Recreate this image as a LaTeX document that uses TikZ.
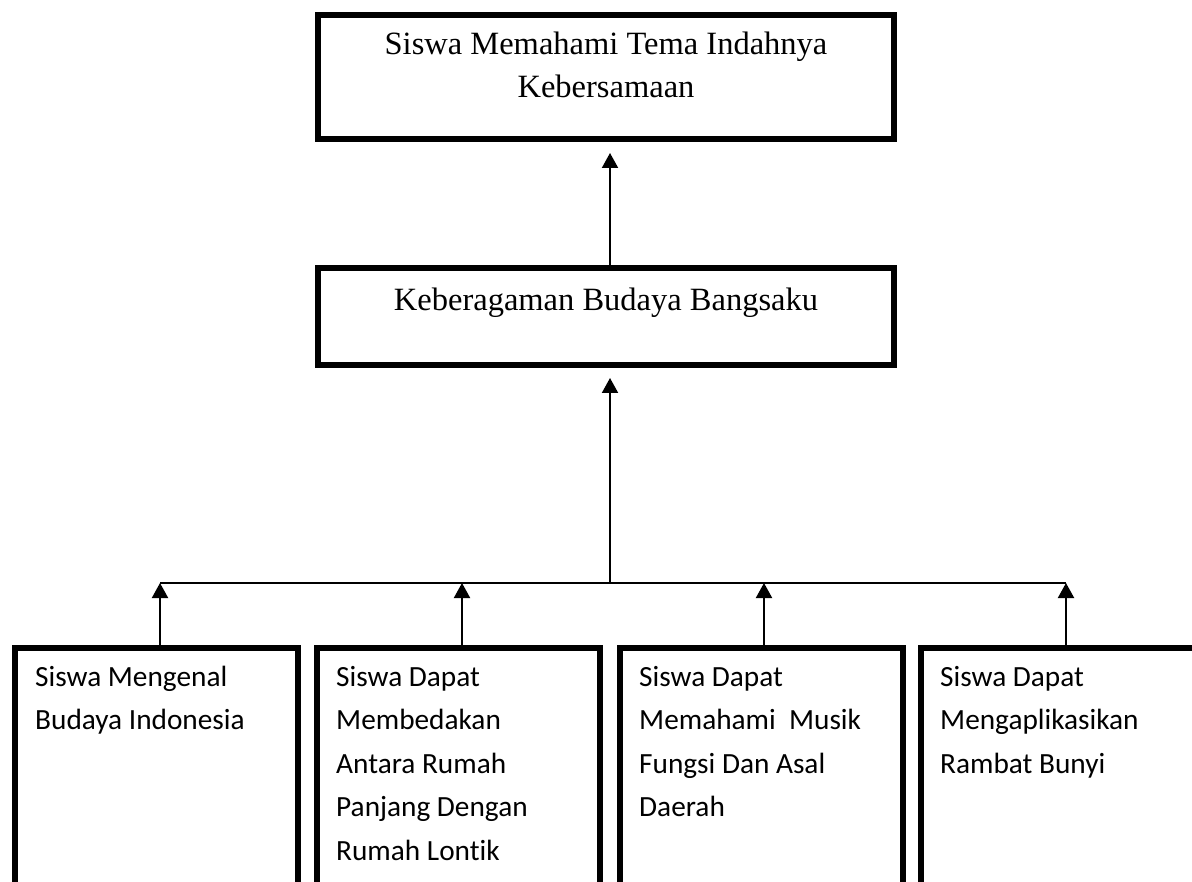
\documentclass[tikz,border=0pt]{standalone}
\usepackage{fontspec}
\setmainfont{Liberation Serif}
\newfontfamily\calib[Ligatures=NoCommon]{Carlito}
\usetikzlibrary{arrows.meta}
\begin{document}
\begin{tikzpicture}[x=1pt,y=-1pt,
  bigbox/.style={draw, line width=6pt, rectangle, inner sep=0pt, minimum width=576pt},
  botbox/.style={draw, line width=6pt, rectangle, inner sep=0pt, anchor=north west, minimum width=283pt, minimum height=300pt},
  serift/.style={inner sep=0pt, anchor=base, font=\fontsize{32.5}{43}\selectfont},
  botxt/.style={inner sep=0pt, anchor=base west, font=\calib\fontsize{29.3}{43.5}\selectfont},
  arr/.style={line width=2pt, -{Triangle[length=15pt,width=16pt]}},
  link/.style={line width=1.5pt}
]
\useasboundingbox (0,0) rectangle (1192,882);
\clip (0,0) rectangle (1192,882);
\fill[white] (0,0) rectangle (1192,882);

% top and middle boxes
\node[bigbox, minimum height=124pt] (top) at (606,77) {};
\node[serift] (ttop) at (606,55) {\parbox[t]{560pt}{\centering Siswa Memahami Tema Indahnya\\Kebersamaan}};
\node[bigbox, minimum height=97pt] (mid) at (606,316.5) {};
\node[serift] (tmid) at (606,311) {Keberagaman Budaya Bangsaku};

% bottom boxes
\node[botbox] (b1) at (12,645) {};
\node[botbox] (b2) at (314,645) {};
\node[botbox] (b3) at (617,645) {};
\node[botbox] (b4) at (918,645) {};
\node[botxt] (t1) at (35,686) {\parbox[t]{255pt}{Siswa Mengenal\\Budaya Indonesia}};
\node[botxt] (t2) at (336,686) {\parbox[t]{255pt}{Siswa Dapat\\Membedakan\\Antara Rumah\\Panjang Dengan\\Rumah Lontik}};
\node[botxt] (t3) at (639,686) {\parbox[t]{255pt}{Siswa Dapat\\Memahami\ \ Musik\\Fungsi Dan Asal\\Daerah}};
\node[botxt] (t4) at (940,686) {\parbox[t]{255pt}{Siswa Dapat\\Mengaplikasikan\\Rambat Bunyi}};

% junctions
\coordinate (j0) at (610,583);
\coordinate (j1) at (160,583);
\coordinate (j2) at (462,583);
\coordinate (j3) at (764,583);
\coordinate (j4) at (1066,583);

% connectors
\draw[arr, shorten >=11pt] (mid.north -| j0) -- (top.south -| j0);
\draw[arr, shorten >=10pt] (j0) -- (mid.south -| j0);
\draw[link] (j1) -- (j4);
\draw[arr] (b1.north -| j1) -- (j1);
\draw[arr] (b2.north -| j2) -- (j2);
\draw[arr] (b3.north -| j3) -- (j3);
\draw[arr] (b4.north -| j4) -- (j4);
\end{tikzpicture}
\end{document}
